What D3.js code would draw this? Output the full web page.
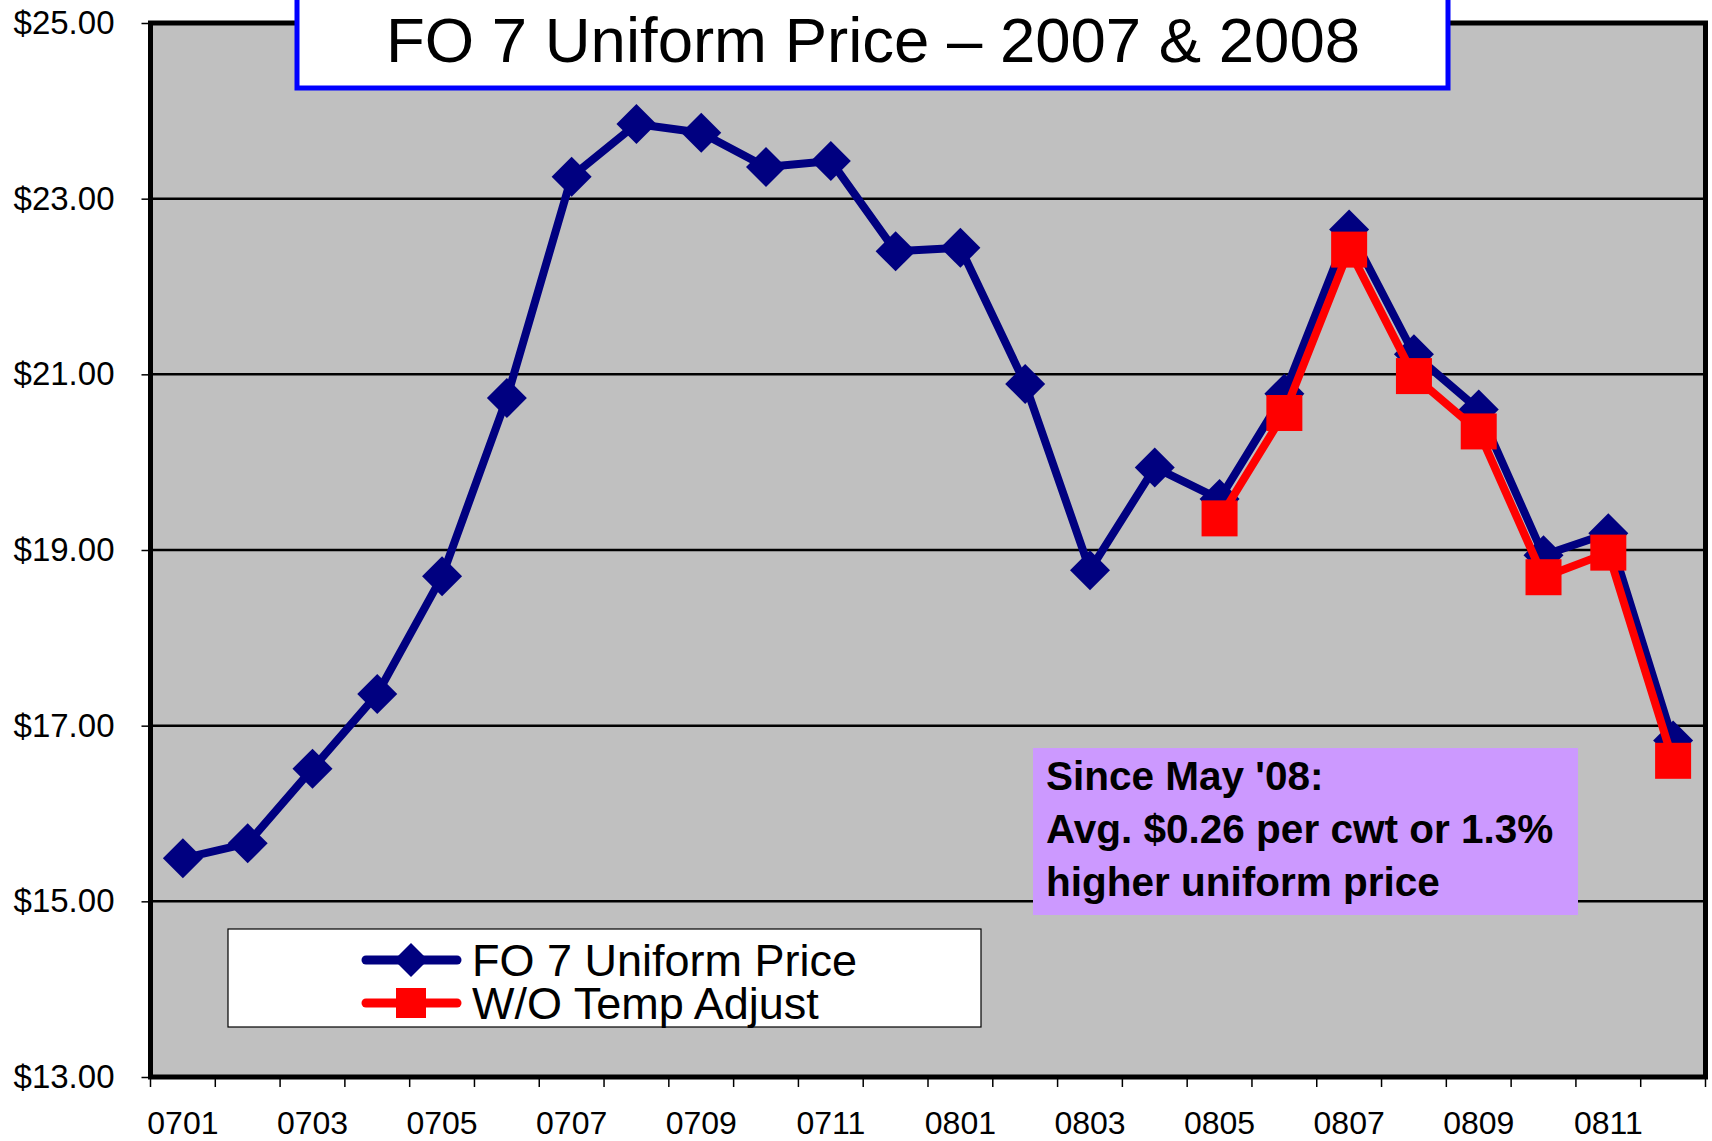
<!DOCTYPE html>
<html>
<head>
<meta charset="utf-8">
<script src="https://cdn.jsdelivr.net/npm/d3@7"></script>
<style>
  html, body { margin: 0; padding: 0; background: #ffffff; }
  svg { display: block; }
  text { font-family: "Liberation Sans", Arial, sans-serif; }
</style>
</head>
<body>
<svg id="chart" width="1712" height="1141"></svg>
<script>
// ---- data ----
const categories = ["0701","0702","0703","0704","0705","0706","0707","0708","0709","0710","0711","0712",
                    "0801","0802","0803","0804","0805","0806","0807","0808","0809","0810","0811","0812"];
const uniformPrice = [15.49, 15.66, 16.51, 17.36, 18.70, 20.73, 23.25, 23.85, 23.75, 23.36, 23.43, 22.40,
                      22.44, 20.89, 18.77, 19.94, 19.58, 20.78, 22.65, 21.23, 20.60, 18.94, 19.19, 16.83];
const withoutTempAdjust = [null, null, null, null, null, null, null, null, null, null, null, null,
                           null, null, null, null, 19.36, 20.56, 22.42, 20.98, 20.35, 18.69, 18.97, 16.60];
const xTickLabels = ["0701","0703","0705","0707","0709","0711","0801","0803","0805","0807","0809","0811"];
const yTickValues = [13, 15, 17, 19, 21, 23, 25];
const titleText = "FO 7 Uniform Price \u2013 2007 & 2008";
const seriesNames = ["FO 7 Uniform Price", "W/O Temp Adjust"];
const noteLines = ["Since May '08:", "Avg. $0.26 per cwt or 1.3%", "higher uniform price"];

// ---- layout ----
const svg = d3.select("#chart");
const plot = { left: 150.5, right: 1705.5, top: 23, bottom: 1077 };
const BLUE = "#000080", RED = "#ff0000";

const x = d3.scaleBand().domain(categories).range([plot.left, plot.right]).padding(0);
const y = d3.scaleLinear().domain([13, 25]).range([plot.bottom, plot.top]);
const cx = d => x(d) + x.bandwidth() / 2;

// plot background
svg.append("rect")
  .attr("x", plot.left).attr("y", plot.top)
  .attr("width", plot.right - plot.left).attr("height", plot.bottom - plot.top)
  .attr("fill", "#c0c0c0");

// gridlines
svg.append("g").selectAll("line")
  .data(yTickValues.filter(v => v > 13 && v < 25))
  .join("line")
  .attr("x1", plot.left).attr("x2", plot.right)
  .attr("y1", d => y(d)).attr("y2", d => y(d))
  .attr("stroke", "#000").attr("stroke-width", 2.5);

// y axis
const yAxis = d3.axisLeft(y).tickValues(yTickValues).tickSize(9).tickPadding(27)
  .tickFormat(d => "$" + d3.format(".2f")(d));
const gy = svg.append("g").attr("transform", `translate(${plot.left},0)`).call(yAxis);
gy.select(".domain").remove();
gy.selectAll(".tick line").attr("stroke", "#000").attr("stroke-width", 1.5);
gy.selectAll(".tick text").attr("font-size", 33).attr("fill", "#000")
  .attr("font-family", "'Liberation Sans', Arial, sans-serif");

// x axis (ticks at category boundaries)
const boundaries = categories.map(c => x(c)).concat([plot.right]);
svg.append("g").selectAll("line").data(boundaries).join("line")
  .attr("x1", d => d).attr("x2", d => d)
  .attr("y1", plot.bottom).attr("y2", plot.bottom + 10)
  .attr("stroke", "#000").attr("stroke-width", 1.5);
svg.append("g").selectAll("text").data(xTickLabels).join("text")
  .attr("x", d => cx(d)).attr("y", 1134)
  .attr("text-anchor", "middle").attr("font-size", 32).attr("fill", "#000")
  .text(d => d);

// plot frame
svg.append("rect")
  .attr("x", plot.left).attr("y", plot.top)
  .attr("width", plot.right - plot.left).attr("height", plot.bottom - plot.top)
  .attr("fill", "none").attr("stroke", "#000").attr("stroke-width", 5);

// ---- series ----
const lineGen = d3.line()
  .defined(d => d.v != null)
  .x(d => cx(d.c)).y(d => y(d.v));

const blueData = categories.map((c, i) => ({ c, v: uniformPrice[i] }));
const redData = categories.map((c, i) => ({ c, v: withoutTempAdjust[i] }));

const diamond = (g, px, py, r) => g.append("path")
  .attr("d", `M${px},${py - r}L${px + r},${py}L${px},${py + r}L${px - r},${py}Z`)
  .attr("fill", BLUE);

svg.append("path").datum(blueData).attr("d", lineGen)
  .attr("fill", "none").attr("stroke", BLUE).attr("stroke-width", 8)
  .attr("stroke-linejoin", "round");
const gB = svg.append("g");
blueData.forEach(d => diamond(gB, cx(d.c), y(d.v), 20));

svg.append("path").datum(redData).attr("d", lineGen)
  .attr("fill", "none").attr("stroke", RED).attr("stroke-width", 8)
  .attr("stroke-linejoin", "round");
svg.append("g").selectAll("rect").data(redData.filter(d => d.v != null)).join("rect")
  .attr("x", d => cx(d.c) - 18).attr("y", d => y(d.v) - 18)
  .attr("width", 36).attr("height", 36).attr("fill", RED);

// ---- title box ----
svg.append("rect")
  .attr("x", 297).attr("y", -10).attr("width", 1151).attr("height", 98)
  .attr("fill", "#fff").attr("stroke", "#0000ff").attr("stroke-width", 5);
svg.append("text")
  .attr("x", 873).attr("y", 62).attr("text-anchor", "middle")
  .attr("font-size", 63.5).attr("fill", "#000").text(titleText);

// ---- legend ----
const lg = svg.append("g");
lg.append("rect").attr("x", 228).attr("y", 929).attr("width", 753).attr("height", 98)
  .attr("fill", "#fff").attr("stroke", "#000").attr("stroke-width", 1.2);
const legendRows = [{ y: 960, color: BLUE, mark: "diamond" }, { y: 1003, color: RED, mark: "square" }];
legendRows.forEach((r, i) => {
  lg.append("line").attr("x1", 366).attr("x2", 457).attr("y1", r.y).attr("y2", r.y)
    .attr("stroke", r.color).attr("stroke-width", 9).attr("stroke-linecap", "round");
  if (r.mark === "diamond") diamond(lg, 411, r.y, 17);
  else lg.append("rect").attr("x", 411 - 15).attr("y", r.y - 15).attr("width", 30).attr("height", 30).attr("fill", RED);
  lg.append("text").attr("x", 472).attr("y", r.y + 16).attr("font-size", 45).attr("fill", "#000")
    .text(seriesNames[i]);
});

// ---- annotation ----
svg.append("rect").attr("x", 1033).attr("y", 748).attr("width", 545).attr("height", 167)
  .attr("fill", "#cc99ff");
svg.append("g").selectAll("text").data(noteLines).join("text")
  .attr("x", 1046).attr("y", (d, i) => 790 + i * 53)
  .attr("font-size", 40.5).attr("font-weight", "bold").attr("fill", "#000")
  .text(d => d);
</script>
</body>
</html>
